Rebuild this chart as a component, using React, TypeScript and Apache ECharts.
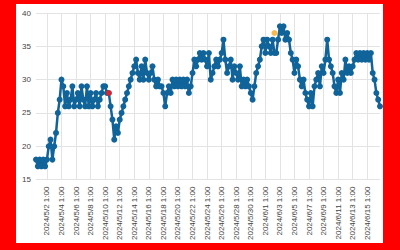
import React, { useEffect, useRef } from "react";
import * as echarts from "echarts";

// Category axis: readings every 6 hours from 2024/4/30 13:00
const startUTC = Date.UTC(2024, 3, 30, 13, 0);
const stepHours = 6;

const values: number[] = [
  18, 17, 18, 17, 18, 17, 18, 20, 21, 18,
  20, 22, 25, 27, 30, 29, 26, 28, 26, 27,
  29, 26, 27, 28, 26, 29, 27, 26, 29, 26,
  28, 26, 27, 28, 26, 27, 28, 29, 29, 28,
  28, 26, 24, 21, 23, 22, 24, 25, 26, 27,
  28, 29, 30, 31, 32, 33, 31, 30, 32, 30,
  33, 31, 30, 31, 32, 30, 29, 30, 29, 29,
  28, 26, 28, 29, 28, 30, 29, 30, 29, 30,
  29, 30, 29, 30, 28, 29, 31, 33, 32, 33,
  34, 33, 34, 33, 32, 34, 30, 31, 32, 33,
  32, 33, 34, 36, 33, 31, 32, 33, 30, 32,
  31, 30, 32, 29, 30, 29, 30, 29, 28, 27,
  29, 31, 32, 33, 35, 36, 34, 36, 35, 34,
  36, 34, 34, 36, 38, 37, 38, 36, 37, 36,
  34, 33, 31, 33, 32, 30, 29, 30, 28, 27,
  26, 28, 26, 29, 30, 31, 29, 32, 31, 33,
  36, 33, 32, 31, 29, 28, 30, 28, 31, 30,
  33, 31, 32, 31, 32, 33, 34, 33, 34, 33,
  34, 33, 34, 33, 34, 31, 30, 28, 27, 26,
];

const highlightTimes = ["2024/5/10 13:00", "2024/6/2 7:00"];
const highlightValues = [28, 37];
const highlightColors = ["#ff1a1a", "#f5a623"];

const yTicks = [15, 20, 25, 30, 35, 40];

function fmt(ms: number): string {
  const d = new Date(ms);
  return `${d.getUTCFullYear()}/${d.getUTCMonth() + 1}/${d.getUTCDate()} ${d.getUTCHours()}:${String(d.getUTCMinutes()).padStart(2, "0")}`;
}

const categories: string[] = values.map((_, i) => fmt(startUTC + i * stepHours * 3600 * 1000));

// show a label every 2 days at 1:00
const labelEvery = (idx: number) => (idx - 6) % 8 === 0 && idx >= 6;

export default function App() {
  const ref = useRef<HTMLDivElement>(null);
  useEffect(() => {
    if (!ref.current) return;
    const chart = echarts.init(ref.current, null, { renderer: "svg" });
    chart.setOption({
      animation: false,
      backgroundColor: "#ffffff",
      grid: { left: 20, top: 9, right: 3, bottom: 60, containLabel: false },
      xAxis: {
        type: "category",
        data: categories,
        boundaryGap: false,
        axisLine: { show: false },
        axisTick: { show: false },
        axisLabel: {
          interval: (idx: number) => labelEvery(idx),
          rotate: 90,
          fontSize: 8,
          color: "#444",
          fontFamily: "Liberation Sans",
          margin: 7,
        },
        splitLine: {
          show: true,
          interval: (idx: number) => labelEvery(idx),
          lineStyle: { color: "#e3e3e3", width: 1 },
        },
      },
      yAxis: {
        type: "value",
        min: yTicks[0],
        max: yTicks[yTicks.length - 1],
        interval: 5,
        axisLine: { show: false },
        axisTick: { show: false },
        axisLabel: { fontSize: 8, color: "#444", fontFamily: "Liberation Sans", margin: 5 },
        splitLine: { lineStyle: { color: "#e3e3e3", width: 1 } },
      },
      series: [
        {
          type: "line",
          data: values,
          symbol: "circle",
          symbolSize: 6,
          showSymbol: true,
          showAllSymbol: true,
          lineStyle: { color: "#10649a", width: 2.5 },
          itemStyle: { color: "#10649a" },
          z: 2,
        },
        {
          type: "scatter",
          data: highlightTimes.map((t, i) => ({
            value: [t, highlightValues[i]],
            itemStyle: { color: highlightColors[i] },
          })),
          symbol: "circle",
          symbolSize: 6,
          z: 5,
        },
      ],
    });
    return () => chart.dispose();
  }, []);
  return (
    <div style={{ position: "fixed", left: 0, top: 0, width: 400, height: 250, background: "#ff0000" }}>
      <div
        ref={ref}
        style={{ position: "absolute", left: 16, top: 4, width: 367, height: 239, background: "#ffffff" }}
      />
    </div>
  );
}
